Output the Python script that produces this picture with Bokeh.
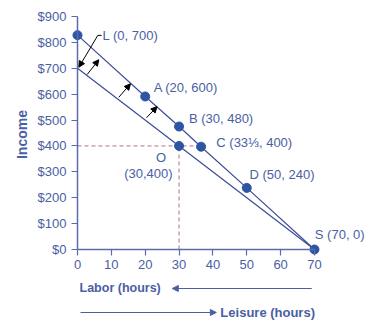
import math
from bokeh.plotting import figure
from bokeh.models import (LinearAxis, FixedTicker, NumeralTickFormatter, Range1d,
                          Arrow, NormalHead, ColumnDataSource)
from bokeh.core.properties import value
from bokeh.embed import file_html
from bokeh.resources import INLINE

# ---- data (hours of labor on x, income on y) ----
upper_x = [0, 20, 30, 36.5, 50, 70]
upper_y = [828, 591, 475, 397, 238, 0]
lower_x = [0, 30, 70]
lower_y = [700, 400, 0]
dot_x = [0, 20, 30, 36.5, 50, 70, 30]
dot_y = [828, 591, 475, 397, 238, 0, 400]

labels = ["L (0, 700)", "A (20, 600)", "B (30, 480)", "C (33\u2153, 400)", "D (50, 240)", "S (70, 0)"]
label_x = [7.4, 22.5, 32.9, 41.0, 50.8, 70.1]
label_y = [827, 626, 505, 414, 290, 58]

o_labels = ["O", "(30,400)"]
o_x = [26.2, 28.1]
o_y = [355, 292]

dash_h_x = [0, 36.5]
dash_h_y = [400, 400]
dash_v_x = [30, 30]
dash_v_y = [0, 400]

shift_x0 = [2.86, 12.2, 20.4]
shift_y0 = [676, 588, 509]
shift_x1 = [6.29, 15.65, 23.5]
shift_y1 = [733, 640, 552]

x_ticks = [0, 10, 20, 30, 40, 50, 60, 70]
y_ticks = [0, 100, 200, 300, 400, 500, 600, 700, 800, 900]

FONT = "Liberation Sans"
TXT = "#4a60a4"
LINE = "#3c4d96"
DOT = "#2e55a4"
DASH = "#b07090"

p = figure(width=390, height=327, output_backend="svg", toolbar_location=None,
           x_axis_location=None, y_axis_location=None,
           x_range=Range1d(-22.74, 92.45), y_range=Range1d(-301.3, 961.8),
           min_border=0, min_border_left=0, min_border_right=0,
           min_border_top=0, min_border_bottom=0)
p.outline_line_color = None
p.xgrid.visible = False
p.ygrid.visible = False
p.background_fill_color = "white"
p.border_fill_color = "white"

# axes at data zero
yax = LinearAxis(fixed_location=0, bounds=(0, 900), ticker=FixedTicker(ticks=y_ticks),
                 formatter=NumeralTickFormatter(format="$0"))
xax = LinearAxis(fixed_location=0, bounds=(0, 70), ticker=FixedTicker(ticks=x_ticks))
for ax in (xax, yax):
    ax.axis_line_color = "#5b6cae"
    ax.axis_line_width = 1.5
    ax.major_tick_line_color = "#5b6cae"
    ax.major_tick_line_width = 1.2
    ax.major_tick_out = 6
    ax.major_tick_in = 0
    ax.minor_tick_line_color = None
    ax.major_label_text_font = FONT
    ax.major_label_text_font_size = "13px"
    ax.major_label_text_color = TXT
    ax.major_label_standoff = 5
p.add_layout(yax, "left")
p.add_layout(xax, "below")

# dashed guides
p.line(dash_h_x, dash_h_y, line_color=DASH, line_dash="4 3", line_width=1)
p.line(dash_v_x, dash_v_y, line_color=DASH, line_dash="4 3", line_width=1)

# budget lines
p.line(upper_x, upper_y, line_color=LINE, line_width=1.2)
p.line(lower_x, lower_y, line_color=LINE, line_width=1.2)

# shift arrows
for x0, y0, x1, y1 in zip(shift_x0, shift_y0, shift_x1, shift_y1):
    p.add_layout(Arrow(end=NormalHead(size=6, fill_color="black", line_color="black"),
                       x_start=x0, y_start=y0, x_end=x1, y_end=y1,
                       line_color="black", line_width=1))

# leader for L
p.line([7.1, 6.0], [827, 827], line_color="black", line_width=1)
p.add_layout(Arrow(end=NormalHead(size=6, fill_color="black", line_color="black"),
                   x_start=6.0, y_start=827, x_end=0.4, y_end=704,
                   line_color="black", line_width=1))

# dots
p.scatter(dot_x, dot_y, size=9, fill_color=DOT, line_color=DOT)

# point labels
p.text(label_x, label_y, text=labels, text_font=value(FONT), text_font_size="13px",
       text_color=TXT, text_baseline="middle", text_align="left")
p.text(o_x, o_y, text=o_labels, text_font=value(FONT), text_font_size="13px",
       text_color=TXT, text_baseline="middle", text_align="right")

# axis titles
p.text([-16.3], [444], text=["Income"], angle=math.pi / 2, text_font=value(FONT),
       text_font_size="14px", text_font_style="bold", text_color=TXT,
       text_baseline="middle", text_align="center")
p.text([0.6], [-150.6], text=["Labor (hours)"], text_font=value(FONT),
       text_font_size="12.5px", text_font_style="bold", text_color=TXT,
       text_baseline="middle", text_align="left")
p.text([42.2], [-243.3], text=["Leisure (hours)"], text_font=value(FONT),
       text_font_size="13px", text_font_style="bold", text_color=TXT,
       text_baseline="middle", text_align="left")
p.add_layout(Arrow(end=NormalHead(size=6, fill_color=TXT, line_color=TXT),
                   x_start=69.2, y_start=-150.6, x_end=28.0, y_end=-150.6,
                   line_color=TXT, line_width=1.2))
p.add_layout(Arrow(end=NormalHead(size=6, fill_color=TXT, line_color=TXT),
                   x_start=0.9, y_start=-243.3, x_end=41.0, y_end=-243.3,
                   line_color=TXT, line_width=1.2))

open("out.html", "w").write(file_html(p, INLINE))
